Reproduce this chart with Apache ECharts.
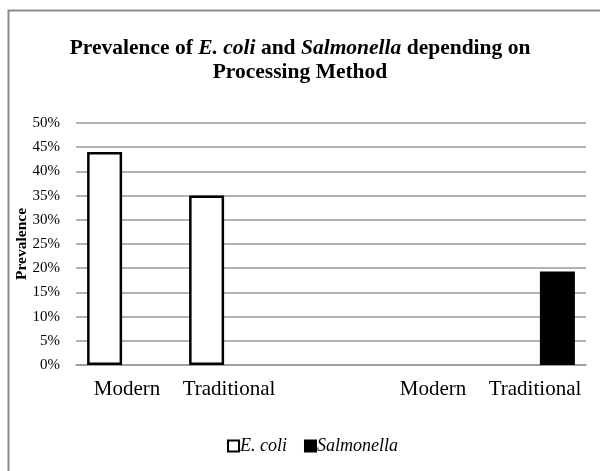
<!DOCTYPE html>
<html>
<head>
<meta charset="utf-8">
<script src="https://cdn.jsdelivr.net/npm/echarts@6/dist/echarts.min.js"></script>
<style>
html, body { margin: 0; padding: 0; background: #fff; }
#chart { width: 600px; height: 471px; }
</style>
</head>
<body>
<div id="chart"></div>
<script>
// categories, the empty one is the spacer between the two groups
const categories = ['Modern', 'Traditional', '', 'Modern', 'Traditional']
const ecoliValues = [44, 35, null, null, null]
const salmonellaValues = [null, null, null, null, 19.3]
const seriesNames = ['E. coli', 'Salmonella']

const serif = '"Liberation Serif", "DejaVu Serif", serif'

const chart = echarts.init(document.getElementById('chart'))
chart.setOption({
  backgroundColor: '#fff',
  animation: false,
  graphic: [
    {
      type: 'rect',
      shape: { x: 8.5, y: 10.5, width: 700, height: 600 },
      style: { fill: 'none', stroke: '#8c8c8c', lineWidth: 2 },
      silent: true
    }
  ],
  title: {
    text: '{b|Prevalence of }{bi|E. coli}{b| and }{bi|Salmonella}{b| depending on}\n{b|Processing Method}',
    left: 'center',
    top: 31,
    textStyle: {
      rich: {
        b: { fontFamily: serif, fontWeight: 'bold', fontSize: 21.5, color: '#000', lineHeight: 24 },
        bi: { fontFamily: serif, fontWeight: 'bold', fontStyle: 'italic', fontSize: 21.5, color: '#000', lineHeight: 24 }
      }
    }
  },
  legend: {
    data: seriesNames,
    left: 222,
    top: 432,
    itemWidth: 11,
    itemHeight: 11,
    itemGap: 17,
    icon: 'rect',
    textStyle: { fontFamily: serif, fontStyle: 'italic', fontSize: 18, color: '#000', padding: [0, 0, 0, -4] }
  },
  grid: { left: 76, right: 14, top: 123, bottom: 106 },
  xAxis: {
    type: 'category',
    data: categories,
    axisTick: { show: false },
    axisLine: { lineStyle: { color: '#999', width: 1.5 } },
    axisLabel: { fontFamily: serif, fontSize: 21, color: '#000', margin: 14, interval: 0 }
  },
  yAxis: {
    type: 'value',
    min: 0,
    max: 50,
    interval: 5,
    name: 'Prevalence',
    nameLocation: 'middle',
    nameGap: 46,
    nameMoveOverlap: false,
    nameTextStyle: { fontFamily: serif, fontWeight: 'bold', fontSize: 15.5, color: '#000' },
    axisLine: { show: false },
    axisTick: { show: false },
    axisLabel: { fontFamily: serif, fontSize: 15, color: '#000', margin: 16, formatter: '{value}%' },
    splitLine: { lineStyle: { color: '#999', width: 1.5 } }
  },
  series: [
    {
      name: seriesNames[0],
      type: 'bar',
      data: ecoliValues,
      barWidth: 35,
      barGap: '28%',
      itemStyle: { color: '#fff', borderColor: '#000', borderWidth: 2.5 }
    },
    {
      name: seriesNames[1],
      type: 'bar',
      data: salmonellaValues,
      barWidth: 35,
      itemStyle: { color: '#000', borderColor: '#000', borderWidth: 2.5 }
    }
  ]
})
</script>
</body>
</html>
